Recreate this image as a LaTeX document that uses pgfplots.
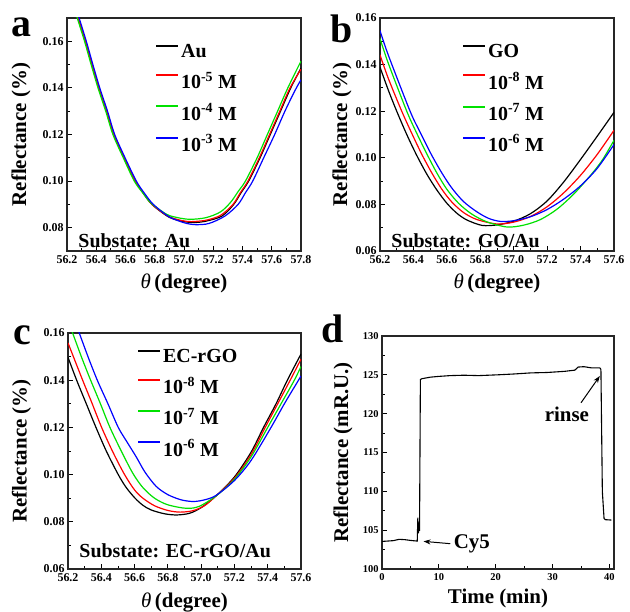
\documentclass[border=0pt]{standalone}
\usepackage{fontspec}
\setmainfont{Liberation Serif}
\usepackage{pgfplots}
\pgfplotsset{compat=1.18}
\usetikzlibrary{arrows.meta}
\definecolor{cgreen}{RGB}{0,225,0}
\definecolor{cblue}{RGB}{0,0,255}
\definecolor{cred}{RGB}{255,0,0}
\pgfplotsset{legend image code/.code={\draw[#1, line width=2bp] (0bp,6bp) -- (22bp,6bp);}}
\pgfplotsset{
  panel/.style={
    scale only axis,
    axis line style={line width=1.2bp, black!85},
    tick align=inside,
    xtick pos=left, ytick pos=left,
    major tick length=5bp, minor tick length=3bp,
    every tick/.style={black, line width=0.8bp},
    minor x tick num=1, minor y tick num=1,
    /pgf/number format/assume math mode=true,
    xticklabel={\textbf{\pgfmathprintnumber{\tick}}},
    yticklabel={\textbf{\pgfmathprintnumber{\tick}}},
    tick label style={font=\bfseries\fontsize{12}{12}\selectfont},
    xticklabel style={yshift=-1.5bp},
    label style={font=\bfseries\fontsize{21}{24}\selectfont},
    legend style={draw=none, fill=none, font=\bfseries\fontsize{20}{20}\selectfont,
      anchor=north west, row sep=9bp, inner xsep=0pt, inner ysep=0pt,
      /tikz/every even column/.append style={column sep=5bp}},
    legend cell align=left,
    every axis plot/.append style={line width=1.2bp},
  },
  curves/.style={
    xmin=56.2, ymin=0.06, ymax=0.16,
    ytick={0.06,0.08,0.10,0.12,0.14,0.16},
    xticklabel style={/pgf/number format/.cd, fixed, fixed zerofill, precision=1},
    yticklabel style={/pgf/number format/.cd, fixed, fixed zerofill, precision=2},
    xlabel={{\mdseries\itshape θ}\,(degree)},
    ylabel={Reflectance (\%)},
  },
}
\begin{document}
\begin{tikzpicture}
\path[use as bounding box] (0bp,0bp) rectangle (630bp,612bp);

% ---------- panel a ----------
\begin{axis}[panel, curves, at={(67bp,361bp)}, anchor=south west,
  width=234bp, height=233bp, xmax=57.8, ymin=0.07, ymax=0.17,
  ytick={0.08,0.10,0.12,0.14,0.16},
  xtick={56.2,56.4,56.6,56.8,57.0,57.2,57.4,57.6,57.8},
  xlabel style={at={(axis description cs:0.5,-0.085)}, anchor=north},
  ylabel style={at={(axis description cs:-0.197,0.5)}, anchor=center},
  legend style={at={(axis description cs:0.376,0.895)}}]
\addplot[black, smooth] coordinates {(56.27,0.171)(56.325,0.160)(56.37,0.150)(56.417,0.140)(56.47,0.130)(56.519,0.120)(56.59,0.110)(56.667,0.100)(56.72,0.0950)(56.781,0.0900)(56.884,0.0850)(56.95,0.0833)(57.00,0.0826)(57.066,0.0822)(57.15,0.0828)(57.26,0.0850)(57.34,0.0900)(57.39,0.0950)(57.442,0.1000)(57.52,0.1100)(57.59,0.1200)(57.66,0.1300)(57.73,0.1400)(57.80,0.1485)};
\addlegendentry{Au}
\addplot[cred, smooth] coordinates {(56.27,0.171)(56.325,0.160)(56.37,0.150)(56.417,0.140)(56.47,0.130)(56.519,0.120)(56.59,0.110)(56.667,0.100)(56.72,0.0950)(56.781,0.0900)(56.884,0.0852)(56.95,0.0836)(57.00,0.0829)(57.05,0.0826)(57.15,0.0832)(57.25,0.0853)(57.335,0.0900)(57.385,0.0950)(57.437,0.1000)(57.515,0.1100)(57.585,0.1200)(57.655,0.1300)(57.725,0.1400)(57.80,0.1480)};
\addlegendentry{10\textsuperscript{-5} M}
\addplot[cgreen, smooth] coordinates {(56.265,0.171)(56.32,0.160)(56.365,0.150)(56.412,0.140)(56.465,0.130)(56.514,0.120)(56.585,0.110)(56.66,0.100)(56.715,0.0952)(56.775,0.0905)(56.88,0.0858)(56.95,0.0844)(57.04,0.0836)(57.15,0.0843)(57.25,0.0868)(57.32,0.0910)(57.37,0.0955)(57.42,0.1000)(57.50,0.1100)(57.57,0.1200)(57.64,0.1300)(57.71,0.1400)(57.80,0.1515)};
\addlegendentry{10\textsuperscript{-4} M}
\addplot[cblue, smooth] coordinates {(56.278,0.171)(56.332,0.160)(56.377,0.150)(56.424,0.140)(56.477,0.130)(56.526,0.120)(56.597,0.110)(56.674,0.100)(56.727,0.0950)(56.79,0.0900)(56.89,0.0850)(56.96,0.0830)(57.02,0.0818)(57.08,0.0813)(57.17,0.0818)(57.28,0.0850)(57.37,0.0900)(57.42,0.0950)(57.47,0.1000)(57.545,0.1100)(57.62,0.1200)(57.69,0.1300)(57.76,0.1390)(57.80,0.1435)};
\addlegendentry{10\textsuperscript{-3} M}
\node[anchor=base west, font=\bfseries\fontsize{20}{20}\selectfont] at (axis description cs:0.034,0.017) {Substate: Au};
\end{axis}

% ---------- panel b ----------
\begin{axis}[panel, curves, at={(380bp,361bp)}, anchor=south west,
  width=234bp, height=233bp, xmax=57.6,
  xtick={56.2,56.4,56.6,56.8,57.0,57.2,57.4,57.6},
  xlabel style={at={(axis description cs:0.5,-0.085)}, anchor=north},
  ylabel style={at={(axis description cs:-0.162,0.5)}, anchor=center},
  legend style={at={(axis description cs:0.35,0.895)}}]
\addplot[black, smooth] coordinates {(56.20,0.1389)(56.25,0.1290)(56.30,0.1200)(56.36,0.1100)(56.42,0.1010)(56.48,0.0930)(56.54,0.0862)(56.60,0.0805)(56.66,0.0762)(56.72,0.0733)(56.81,0.0710)(56.90,0.0712)(57.00,0.0728)(57.10,0.0760)(57.20,0.0815)(57.30,0.0897)(57.40,0.0993)(57.50,0.1093)(57.60,0.1195)};
\addlegendentry{GO}
\addplot[cred, smooth] coordinates {(56.20,0.1442)(56.25,0.1340)(56.33,0.1200)(56.39,0.1105)(56.45,0.1015)(56.51,0.0935)(56.57,0.0865)(56.63,0.0810)(56.70,0.0765)(56.78,0.0735)(56.90,0.0716)(57.00,0.0724)(57.10,0.0748)(57.20,0.0790)(57.30,0.0850)(57.40,0.0925)(57.50,0.1015)(57.60,0.1118)};
\addlegendentry{10\textsuperscript{-8} M}
\addplot[cgreen, smooth] coordinates {(56.20,0.1512)(56.25,0.1405)(56.36,0.1200)(56.42,0.1105)(56.48,0.1017)(56.54,0.0935)(56.60,0.0865)(56.67,0.0805)(56.75,0.0758)(56.84,0.0725)(56.96,0.0703)(57.06,0.0711)(57.16,0.0735)(57.26,0.0780)(57.36,0.0845)(57.46,0.0925)(57.53,0.0990)(57.60,0.1075)};
\addlegendentry{10\textsuperscript{-7} M}
\addplot[cblue, smooth] coordinates {(56.20,0.1546)(56.25,0.1440)(56.38,0.1200)(56.44,0.1110)(56.505,0.1017)(56.57,0.0935)(56.63,0.0870)(56.70,0.0812)(56.78,0.0768)(56.85,0.0740)(56.92,0.0727)(57.00,0.0730)(57.10,0.0747)(57.20,0.0778)(57.30,0.0823)(57.40,0.0880)(57.50,0.0955)(57.60,0.1057)};
\addlegendentry{10\textsuperscript{-6} M}
\node[anchor=base west, font=\bfseries\fontsize{20}{20}\selectfont] at (axis description cs:0.034,0.017) {Substate: GO/Au};
\end{axis}

% ---------- panel c ----------
\begin{axis}[panel, curves, at={(68bp,43bp)}, anchor=south west,
  width=233bp, height=236bp, xmax=57.6,
  xtick={56.2,56.4,56.6,56.8,57.0,57.2,57.4,57.6},
  xlabel style={at={(axis description cs:0.5,-0.088)}, anchor=north},
  ylabel style={at={(axis description cs:-0.2,0.5)}, anchor=center},
  legend style={at={(axis description cs:0.296,0.94)}}]
\addplot[black, smooth] coordinates {(56.20,0.1497)(56.252,0.1400)(56.31,0.1300)(56.368,0.1200)(56.43,0.1100)(56.502,0.1000)(56.55,0.0945)(56.603,0.0900)(56.65,0.0870)(56.70,0.0850)(56.78,0.0834)(56.853,0.0829)(56.93,0.0836)(57.00,0.0860)(57.09,0.0910)(57.20,0.0990)(57.30,0.1095)(57.375,0.1200)(57.45,0.1300)(57.518,0.1400)(57.60,0.1511)};
\addlegendentry{EC-rGO}
\addplot[cred, smooth] coordinates {(56.20,0.1558)(56.288,0.1400)(56.34,0.1310)(56.402,0.1200)(56.47,0.1095)(56.54,0.1000)(56.60,0.0935)(56.65,0.0900)(56.72,0.0868)(56.80,0.0848)(56.873,0.0841)(56.95,0.0847)(57.02,0.0868)(57.09,0.0910)(57.20,0.0985)(57.30,0.1085)(57.385,0.1200)(57.46,0.1300)(57.535,0.1400)(57.60,0.1489)};
\addlegendentry{10\textsuperscript{-8} M}
\addplot[cgreen, smooth] coordinates {(56.22,0.1615)(56.28,0.1500)(56.336,0.1400)(56.395,0.1300)(56.452,0.1200)(56.52,0.1100)(56.59,0.1005)(56.65,0.0945)(56.72,0.0900)(56.80,0.0872)(56.913,0.0857)(56.99,0.0866)(57.09,0.0910)(57.20,0.0980)(57.30,0.1075)(57.40,0.1200)(57.48,0.1300)(57.56,0.1400)(57.60,0.1458)};
\addlegendentry{10\textsuperscript{-7} M}
\addplot[cblue, smooth] coordinates {(56.26,0.1615)(56.32,0.1500)(56.376,0.1400)(56.44,0.1300)(56.502,0.1200)(56.553,0.1140)(56.61,0.1075)(56.663,0.1010)(56.73,0.0950)(56.80,0.0915)(56.88,0.0893)(56.953,0.0886)(57.02,0.0893)(57.09,0.0912)(57.20,0.0975)(57.30,0.1060)(57.42,0.1200)(57.50,0.1300)(57.585,0.1400)(57.60,0.1418)};
\addlegendentry{10\textsuperscript{-6} M}
\node[anchor=base west, font=\bfseries\fontsize{20}{20}\selectfont] at (axis description cs:0.034,0.047) {Substate: EC-rGO/Au};
\end{axis}

% ---------- panel d ----------
\begin{axis}[panel, at={(382bp,43bp)}, anchor=south west,
  width=232bp, height=233bp, xmin=0, xmax=40.8, ymin=100, ymax=130,
  xtick={0,10,20,30,40}, ytick={100,105,110,115,120,125,130},
  tick label style={font=\bfseries\fontsize{10.5}{10.5}\selectfont},
  xlabel={Time (min)}, ylabel={Reflectance (mR.U.)},
  xlabel style={at={(axis description cs:0.5,-0.07)}, anchor=north},
  ylabel style={at={(axis description cs:-0.168,0.5)}, anchor=center}]
\addplot[black, line width=1.1bp] coordinates {(0,103.55)(1,103.6)(2,103.65)(3,103.82)(4,103.78)(5,103.68)(6.1,103.6)(6.2,103.6)(6.3,106.6)(6.4,104.6)(6.5,105.4)(6.6,104.9)(6.75,124.4)(7.0,124.5)(8.5,124.7)(10,124.8)(12,124.9)(14.4,124.95)(17,124.9)(20.3,125.0)(23,125.1)(26.2,125.25)(29,125.3)(32.1,125.45)(33.9,125.6)(34.5,126.0)(35.5,126.05)(36.8,125.9)(38.3,125.9)(38.5,125.7)(38.75,110)(39.05,106.5)(39.3,106.35)(40.35,106.3)};
\draw[-{Stealth[length=7bp,width=5bp]}, line width=1bp] (axis cs:35.0,121.4) -- (axis cs:38.3,124.85);
\draw[-{Stealth[length=7bp,width=5bp]}, line width=1bp] (axis cs:12.0,103.26) -- (axis cs:7.3,103.56);
\node[anchor=west, font=\bfseries\fontsize{21}{21}\selectfont, inner sep=0pt] at (axis cs:28.6,119.9) {rinse};
\node[anchor=west, font=\bfseries\fontsize{21}{21}\selectfont, inner sep=0pt] at (axis cs:12.6,103.2) {Cy5};
\end{axis}

% panel letters
\node[anchor=base, font=\bfseries\fontsize{40}{40}\selectfont, inner sep=0pt] at (21bp,575bp) {a};
\node[anchor=base, font=\bfseries\fontsize{40}{40}\selectfont, inner sep=0pt] at (342bp,569bp) {b};
\node[anchor=base, font=\bfseries\fontsize{40}{40}\selectfont, inner sep=0pt] at (22bp,267bp) {c};
\node[anchor=base, font=\bfseries\fontsize{40}{40}\selectfont, inner sep=0pt] at (333bp,269bp) {d};
\end{tikzpicture}
\end{document}
